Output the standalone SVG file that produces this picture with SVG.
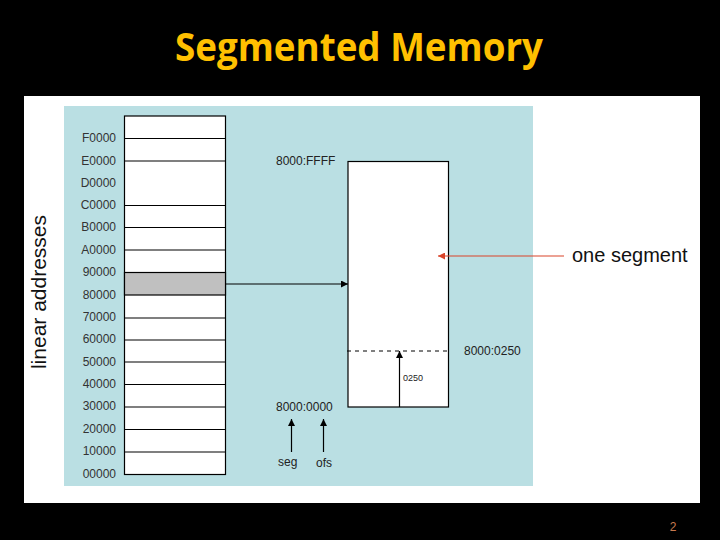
<svg xmlns="http://www.w3.org/2000/svg" width="720" height="540" viewBox="0 0 720 540">
<defs>
<style>
.lbl{font-family:"Liberation Sans",Arial,sans-serif;font-size:12px;fill:#333;}
.addr{font-family:"Liberation Sans",Arial,sans-serif;font-size:12px;fill:#222;}
.row{fill:#fff;stroke:#000;stroke-width:1.2;}
.ln{stroke:#000;stroke-width:1.2;fill:none;}
</style>
<marker id="ah" viewBox="0 0 10 10" refX="10" refY="5" markerWidth="7" markerHeight="7" markerUnits="userSpaceOnUse" orient="auto"><path d="M0,0 L10,5 L0,10 z" fill="#000"/></marker>
<marker id="ahr" viewBox="0 0 10 10" refX="10" refY="5" markerWidth="7" markerHeight="7" markerUnits="userSpaceOnUse" orient="auto"><path d="M0,0 L10,5 L0,10 z" fill="#d9442a"/></marker>
</defs>
<rect x="0" y="0" width="720" height="540" fill="#000"/>
<text x="359" y="61" text-anchor="middle" font-family="'Open Sans','Liberation Sans',sans-serif" font-weight="bold" font-size="39" fill="#ffc000" textLength="368" lengthAdjust="spacingAndGlyphs">Segmented Memory</text>
<rect x="24" y="96" width="676" height="407" fill="#fff"/>
<rect x="64" y="106" width="469" height="380" fill="#badfe3"/>
<text transform="translate(46,292) rotate(-90)" text-anchor="middle" font-family="'Liberation Sans',Arial,sans-serif" font-size="21" fill="#111">linear addresses</text>
<g id="memory">
<rect class="row" x="124.5" y="116" width="101" height="358.5"/>
<rect x="124.5" y="272.5" width="101" height="22.5" fill="#c0c0c0" stroke="#000" stroke-width="1.2"/>
<path class="ln" d="M124.5,138.5H225.5M124.5,161H225.5M124.5,205.5H225.5M124.5,227.5H225.5M124.5,250H225.5M124.5,318H225.5M124.5,340H225.5M124.5,362H225.5M124.5,384.5H225.5M124.5,407H225.5M124.5,429.5H225.5M124.5,452H225.5"/>
</g>
<g id="labels" text-anchor="end">
<text class="lbl" x="116" y="142">F0000</text>
<text class="lbl" x="116" y="165">E0000</text>
<text class="lbl" x="116" y="187">D0000</text>
<text class="lbl" x="116" y="209">C0000</text>
<text class="lbl" x="116" y="231">B0000</text>
<text class="lbl" x="116" y="254">A0000</text>
<text class="lbl" x="116" y="276">90000</text>
<text class="lbl" x="116" y="299">80000</text>
<text class="lbl" x="116" y="321">70000</text>
<text class="lbl" x="116" y="343">60000</text>
<text class="lbl" x="116" y="366">50000</text>
<text class="lbl" x="116" y="388">40000</text>
<text class="lbl" x="116" y="410">30000</text>
<text class="lbl" x="116" y="433">20000</text>
<text class="lbl" x="116" y="455">10000</text>
<text class="lbl" x="116" y="478">00000</text>
</g>
<g id="segment">
<rect class="row" x="348" y="161.5" width="100.5" height="245.5"/>
<text class="addr" x="276" y="165">8000:FFFF</text>
<text class="addr" x="464" y="355">8000:0250</text>
<text class="addr" x="276" y="411">8000:0000</text>
<text x="403" y="381" font-family="'Liberation Sans',Arial,sans-serif" font-size="9" fill="#222">0250</text>
<text class="addr" x="278" y="466">seg</text>
<text class="addr" x="316" y="467">ofs</text>
</g>
<g id="oneseg">
<text x="572" y="262" font-family="'Liberation Sans',Arial,sans-serif" font-size="20" fill="#111">one segment</text>
</g>
<g id="connectors">
<line class="ln" x1="225.5" y1="284" x2="348" y2="284" marker-end="url(#ah)"/>
<line x1="347" y1="351" x2="447" y2="351" stroke="#000" stroke-width="1" stroke-dasharray="4,4"/>
<line class="ln" x1="399.5" y1="407" x2="399.5" y2="351" marker-end="url(#ah)"/>
<line class="ln" x1="291.5" y1="452" x2="291.5" y2="419" marker-end="url(#ah)"/>
<line class="ln" x1="323.5" y1="452" x2="323.5" y2="419" marker-end="url(#ah)"/>
<line x1="564" y1="256" x2="438" y2="256" stroke="#d9442a" stroke-width="1.2" marker-end="url(#ahr)"/>
</g>
<text x="673" y="531" text-anchor="middle" font-family="'Liberation Sans',Arial,sans-serif" font-size="12" fill="#c87a50">2</text>
</svg>
